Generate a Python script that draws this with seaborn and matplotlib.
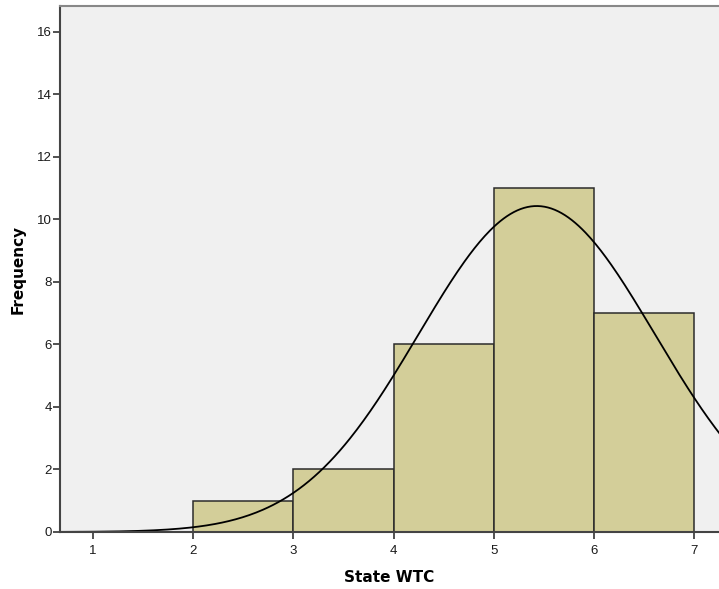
import numpy as np
import pandas as pd
import matplotlib
matplotlib.use("Agg")
import matplotlib.pyplot as plt
import seaborn as sns

# ---- data ----
bin_edges = [2, 3, 4, 5, 6, 7]
bin_mids = [2.5, 3.5, 4.5, 5.5, 6.5]
counts = [1, 2, 6, 11, 7]
x_ticks = [1, 2, 3, 4, 5, 6, 7]
y_ticks = [0, 2, 4, 6, 8, 10, 12, 14, 16]

# fitted normal curve (SPSS style)
curve_mean = 5.43
curve_sd = 1.18
curve_area = 30.85  # N * bin width

sns.set_style("white")
plt.rcParams['font.family'] = ['Liberation Sans', 'DejaVu Sans']

fig = plt.figure(figsize=(7.19, 5.89), dpi=100)
ax = fig.add_axes([60 / 719, 57 / 589, 1 - 60 / 719, 526 / 589])
ax.set_facecolor("#F0F0F0")

hist_df = pd.DataFrame({"value": bin_mids, "count": counts})
sns.histplot(data=hist_df, x="value", weights="count", bins=bin_edges,
             color="#D3CE99", alpha=1, edgecolor="#2b2b2b", linewidth=1.1, ax=ax)

xs = np.linspace(0.6, 7.4, 400)
ys = curve_area / (curve_sd * np.sqrt(2 * np.pi)) * np.exp(-0.5 * ((xs - curve_mean) / curve_sd) ** 2)
sns.lineplot(x=xs, y=ys, color="black", linewidth=1.3, ax=ax)

ax.set_xlim(0.67, 7.25)
ax.set_ylim(0, 16.83)
ax.set_xticks(x_ticks)
ax.set_yticks(y_ticks)
ax.tick_params(axis="both", bottom=True, left=True, direction="out", length=5, width=1.2,
               color="#333333", labelsize=9.5, labelcolor="#1a1a1a")
ax.tick_params(axis="x", pad=4)
ax.tick_params(axis="y", pad=1)

for side in ["left", "bottom"]:
    ax.spines[side].set_color("#444444")
    ax.spines[side].set_linewidth(1.5)
ax.spines["top"].set_color("#888888")
ax.spines["top"].set_linewidth(1.5)
ax.spines["right"].set_visible(False)

ax.set_xlabel("State WTC", fontsize=11, fontweight="bold", family="DejaVu Sans",
              color="black", labelpad=10)
ax.set_ylabel("Frequency", fontsize=11, fontweight="bold", family="DejaVu Sans",
              color="black", labelpad=8)

fig.savefig("out.png", dpi=100, facecolor="white")
